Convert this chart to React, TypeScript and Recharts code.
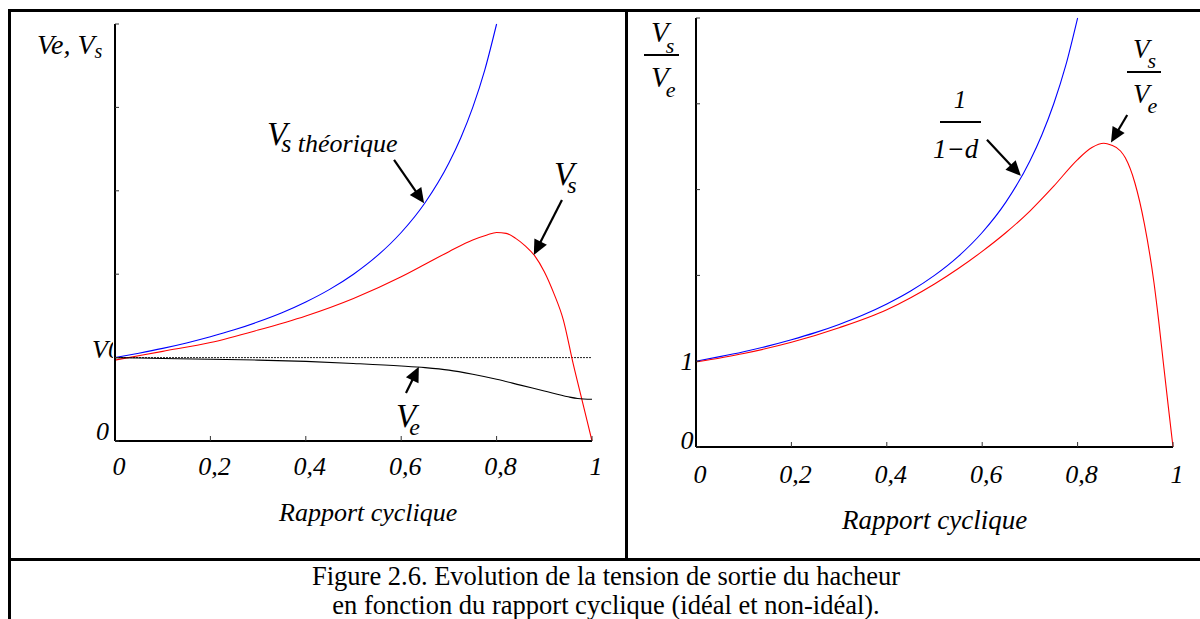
import React from "react";
import { LineChart, Line, XAxis, YAxis, ReferenceLine } from "recharts";

// ---------- Data ----------
// Left chart: Ve, Vs vs duty cycle (units of V0)
const idealD = [0, 0.05, 0.1, 0.15, 0.2, 0.25, 0.3, 0.35, 0.4, 0.45, 0.5, 0.55, 0.6, 0.65, 0.7, 0.725, 0.75, 0.775, 0.8];
const idealV = [1, 1.053, 1.111, 1.176, 1.25, 1.333, 1.429, 1.538, 1.667, 1.818, 2, 2.222, 2.5, 2.857, 3.333, 3.636, 4, 4.444, 5];

const vsLeftD = [0, 0.1, 0.2, 0.3, 0.4, 0.5, 0.6, 0.65, 0.7, 0.75, 0.78, 0.8, 0.82, 0.84, 0.86, 0.88, 0.9, 0.92, 0.94, 0.96, 0.98, 1];
const vsLeftV = [0.97, 1.075, 1.18, 1.33, 1.5, 1.71, 1.97, 2.12, 2.27, 2.41, 2.47, 2.5, 2.49, 2.43, 2.34, 2.22, 2.03, 1.77, 1.45, 0.94, 0.47, 0];

const veLeftD = [0, 0.1, 0.2, 0.3, 0.4, 0.5, 0.6, 0.65, 0.7, 0.75, 0.8, 0.85, 0.9, 0.95, 0.97, 1];
const veLeftV = [1.0, 0.99, 0.98, 0.97, 0.955, 0.93, 0.9, 0.88, 0.85, 0.8, 0.74, 0.67, 0.6, 0.53, 0.51, 0.5];

// Right chart: Vs/Ve vs duty cycle
const ratioD = [0, 0.1, 0.2, 0.3, 0.4, 0.45, 0.5, 0.55, 0.6, 0.65, 0.7, 0.75, 0.8, 0.83, 0.855, 0.87, 0.89, 0.9, 0.92, 0.94, 0.96, 0.97, 0.98, 0.99, 1];
const ratioV = [0.99, 1.09, 1.22, 1.39, 1.6, 1.74, 1.9, 2.08, 2.28, 2.5, 2.75, 3.04, 3.35, 3.49, 3.54, 3.52, 3.45, 3.37, 3.08, 2.6, 1.92, 1.47, 0.97, 0.48, 0];

const xTicks = [0, 0.2, 0.4, 0.6, 0.8, 1];
const yTicks = [0, 1, 2, 3, 4, 5];
const xTickLabels = ["0", "0,2", "0,4", "0,6", "0,8", "1"];

const zip = (ds: number[], vs: number[]) => ds.map((d, i) => ({ d, v: vs[i] }));
const idealData = zip(idealD, idealV);
const vsLeftData = zip(vsLeftD, vsLeftV);
const veLeftData = zip(veLeftD, veLeftV);
const ratioData = zip(ratioD, ratioV);

const SERIF = "'Liberation Serif', 'Times New Roman', serif";

const ArrowShape = (props: any) => {
  const { x1, y1, x2, y2 } = props;
  const dx = x2 - x1, dy = y2 - y1;
  const len = Math.hypot(dx, dy) || 1;
  const ux = dx / len, uy = dy / len;
  const L = 15, W = 7;
  const bx = x2 - ux * L, by = y2 - uy * L;
  return (
    <g>
      <line x1={x1} y1={y1} x2={bx + ux * 2} y2={by + uy * 2} stroke="#000" strokeWidth={2.2} />
      <polygon points={`${x2},${y2} ${bx - uy * W},${by + ux * W} ${bx + uy * W},${by - ux * W}`} fill="#000" />
    </g>
  );
};

const makeXTick = (baseOffset: number) => (props: any) => {
  const { x, y, payload } = props;
  const idx = xTicks.indexOf(payload.value);
  return (
    <text x={x + 4} y={y + baseOffset} textAnchor="middle" fontFamily={SERIF} fontStyle="italic" fontSize={26} fill="#000">
      {xTickLabels[idx]}
    </text>
  );
};

const LeftYTick = (props: any) => {
  const { x, y, payload } = props;
  if (payload.value === 0) {
    return (
      <text x={x - 10} y={y - 1} textAnchor="end" fontFamily={SERIF} fontStyle="italic" fontSize={26} fill="#000">0</text>
    );
  }
  if (payload.value === 1) {
    return (
      <g>
        <defs>
          <clipPath id="v0clip">
            <rect x={x - 40} y={y - 30} width={34} height={40} />
          </clipPath>
        </defs>
        <text x={x - 27} y={y} textAnchor="start" fontFamily={SERIF} fontStyle="italic" fontSize={26} fill="#000" clipPath="url(#v0clip)">V0</text>
      </g>
    );
  }
  return <g />;
};

const RightYTick = (props: any) => {
  const { x, y, payload } = props;
  if (payload.value === 0) {
    return <text x={x - 13} y={y + 2} textAnchor="middle" fontFamily={SERIF} fontStyle="italic" fontSize={26} fill="#000">0</text>;
  }
  if (payload.value === 1) {
    return <text x={x - 13} y={y + 9} textAnchor="middle" fontFamily={SERIF} fontStyle="italic" fontSize={26} fill="#000">1</text>;
  }
  return <g />;
};

const axisStroke = { stroke: "#000", strokeWidth: 2 };
const tickStroke = { stroke: "#333", strokeWidth: 1 };

export default function App() {
  return (
    <div style={{ position: "absolute", left: 0, top: 0, width: 1200, height: 619, background: "#fff", overflow: "hidden" }}>
      {/* Left chart */}
      <div style={{ position: "absolute", left: 0, top: 0 }}>
        <LineChart width={626} height={559} margin={{ top: 24, right: 34, bottom: 58, left: 15 }}>
          <XAxis xAxisId="b" dataKey="d" type="number" domain={[0, 1]} ticks={xTicks} orientation="bottom" height={60}
            axisLine={axisStroke} tickLine={tickStroke} tickSize={-5} tickMargin={0} tick={makeXTick(39)} interval={0} />
          <XAxis xAxisId="t" dataKey="d" type="number" domain={[0, 1]} ticks={xTicks} orientation="top" height={0}
            axisLine={axisStroke} tickLine={tickStroke} tickSize={-5} tick={false} />
          <YAxis yAxisId="l" type="number" domain={[0, 5]} ticks={yTicks} orientation="left" width={100}
            axisLine={axisStroke} tickLine={tickStroke} tickSize={-4} tickMargin={0} tick={LeftYTick} interval={0} />
          <YAxis yAxisId="r" type="number" domain={[0, 5]} ticks={yTicks} orientation="right" width={0}
            axisLine={axisStroke} tickLine={tickStroke} tickSize={-5} tick={false} />
          <ReferenceLine xAxisId="b" yAxisId="l" y={1} stroke="#222" strokeWidth={1} strokeDasharray="2 1" />
          <Line xAxisId="b" yAxisId="l" data={idealData} dataKey="v" type="monotone" dot={false} stroke="#0000ff" strokeWidth={1.1} isAnimationActive={false} />
          <Line xAxisId="b" yAxisId="l" data={vsLeftData} dataKey="v" type="monotone" dot={false} stroke="#ff0000" strokeWidth={1.1} isAnimationActive={false} />
          <Line xAxisId="b" yAxisId="l" data={veLeftData} dataKey="v" type="monotone" dot={false} stroke="#000" strokeWidth={1.1} isAnimationActive={false} />
          <ReferenceLine xAxisId="b" yAxisId="l" segment={[{ x: 0.585, y: 3.37 }, { x: 0.648, y: 2.85 }]} shape={ArrowShape} />
          <ReferenceLine xAxisId="b" yAxisId="l" segment={[{ x: 0.937, y: 2.89 }, { x: 0.878, y: 2.23 }]} shape={ArrowShape} />
          <ReferenceLine xAxisId="b" yAxisId="l" segment={[{ x: 0.61, y: 0.576 }, { x: 0.637, y: 0.89 }]} shape={ArrowShape} />
        </LineChart>
      </div>

      {/* Right chart */}
      <div style={{ position: "absolute", left: 627, top: 0 }}>
        <LineChart width={573} height={559} margin={{ top: 18, right: 27, bottom: 52, left: 19 }}>
          <XAxis xAxisId="b" dataKey="d" type="number" domain={[0, 1]} ticks={xTicks} orientation="bottom" height={60}
            axisLine={axisStroke} tickLine={tickStroke} tickSize={-5} tickMargin={0} tick={makeXTick(41)} interval={0} />
          <XAxis xAxisId="t" dataKey="d" type="number" domain={[0, 1]} ticks={xTicks} orientation="top" height={0}
            axisLine={axisStroke} tickLine={tickStroke} tickSize={-5} tick={false} />
          <YAxis yAxisId="l" type="number" domain={[0, 5]} ticks={yTicks} orientation="left" width={50}
            axisLine={axisStroke} tickLine={tickStroke} tickSize={-4} tickMargin={0} tick={RightYTick} interval={0} />
          <YAxis yAxisId="r" type="number" domain={[0, 5]} ticks={yTicks} orientation="right" width={0}
            axisLine={axisStroke} tickLine={tickStroke} tickSize={-5} tick={false} />
          <Line xAxisId="b" yAxisId="l" data={idealData} dataKey="v" type="monotone" dot={false} stroke="#0000ff" strokeWidth={1.1} isAnimationActive={false} />
          <Line xAxisId="b" yAxisId="l" data={ratioData} dataKey="v" type="monotone" dot={false} stroke="#ff0000" strokeWidth={1.1} isAnimationActive={false} />
          <ReferenceLine xAxisId="b" yAxisId="l" segment={[{ x: 0.61, y: 3.58 }, { x: 0.681, y: 3.16 }]} shape={ArrowShape} />
          <ReferenceLine xAxisId="b" yAxisId="l" segment={[{ x: 0.904, y: 3.87 }, { x: 0.87, y: 3.55 }]} shape={ArrowShape} />
        </LineChart>
      </div>

      {/* Overlay: table borders, titles, annotations, caption */}
      <svg width={1200} height={619} style={{ position: "absolute", left: 0, top: 0, pointerEvents: "none" }}>
        <line x1={8} y1={10.5} x2={1200} y2={10.5} stroke="#000" strokeWidth={3} />
        <line x1={9.5} y1={9} x2={9.5} y2={619} stroke="#000" strokeWidth={3} />
        <line x1={626.5} y1={10} x2={626.5} y2={560} stroke="#000" strokeWidth={3} />
        <line x1={8} y1={559.5} x2={1200} y2={559.5} stroke="#000" strokeWidth={3} />

        <g fontFamily={SERIF} fontStyle="italic" fill="#000">
          {/* Left y title */}
          <text x={37} y={54} fontSize={28}>Ve, V<tspan fontSize={20} dy={4}>s</tspan></text>
          {/* Vs théorique */}
          <text x={267} y={145} fontSize={33}>V<tspan fontSize={26} dx={-6} dy={7}>s théorique</tspan></text>
          {/* Vs */}
          <text x={554} y={185} fontSize={33}>V<tspan fontSize={24} dx={-7} dy={8}>s</tspan></text>
          {/* Ve */}
          <text x={396} y={427} fontSize={33}>V<tspan fontSize={24} dx={-7} dy={8}>e</tspan></text>
          {/* Left x title */}
          <text x={279} y={521} fontSize={26}>Rapport cyclique</text>

          {/* Right y title */}
          <text x={651} y={42} fontSize={29}>V<tspan fontSize={22} dx={-3} dy={11}>s</tspan></text>
          <line x1={644} y1={55} x2={679} y2={55} stroke="#000" strokeWidth={2} />
          <text x={651} y={87} fontSize={29}>V<tspan fontSize={22} dx={-3} dy={10}>e</tspan></text>

          {/* 1/(1-d) */}
          <text x={960} y={108} fontSize={25} textAnchor="middle">1</text>
          <line x1={940} y1={122} x2={981} y2={122} stroke="#000" strokeWidth={2} />
          <text x={933} y={158} fontSize={27}>1−d</text>

          {/* Vs/Ve annotation */}
          <text x={1133} y={58} fontSize={27}>V<tspan fontSize={22} dx={-2} dy={10}>s</tspan></text>
          <line x1={1127} y1={72} x2={1161} y2={72} stroke="#000" strokeWidth={2} />
          <text x={1133} y={103} fontSize={27}>V<tspan fontSize={22} dx={-2} dy={10}>e</tspan></text>

          {/* Right x title */}
          <text x={842} y={529} fontSize={27}>Rapport cyclique</text>
        </g>

        <g fontFamily={SERIF} fill="#000" fontSize={26.5} textAnchor="middle">
          <text x={606} y={585}>Figure 2.6. Evolution de la tension de sortie du hacheur</text>
          <text x={606} y={614}>en fonction du rapport cyclique (idéal et non-idéal).</text>
        </g>
      </svg>
    </div>
  );
}
